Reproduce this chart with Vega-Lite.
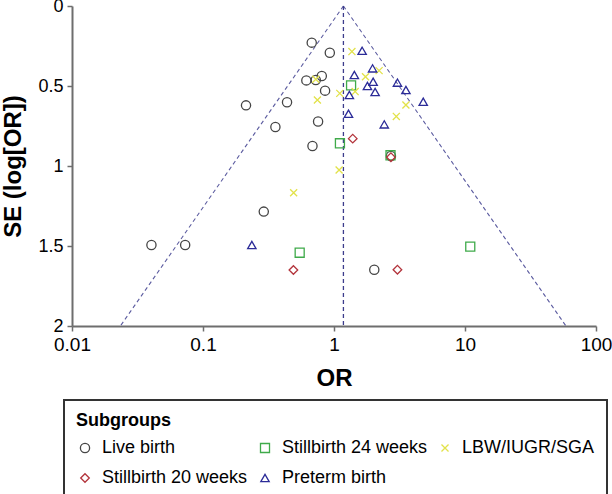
{
  "$schema": "https://vega.github.io/schema/vega-lite/v6.json",
  "autosize": {"type": "none"},
  "padding": {"left": 72, "top": 6, "right": 16, "bottom": 168},
  "width": 524,
  "height": 320,
  "datasets": {
    "studies": [
      {"group": "Live birth", "OR": 0.676, "SE": 0.229},
      {"group": "Live birth", "OR": 0.929, "SE": 0.292},
      {"group": "Live birth", "OR": 0.807, "SE": 0.4375},
      {"group": "Live birth", "OR": 0.615, "SE": 0.465},
      {"group": "Live birth", "OR": 0.726, "SE": 0.4625},
      {"group": "Live birth", "OR": 0.855, "SE": 0.529},
      {"group": "Live birth", "OR": 0.213, "SE": 0.621},
      {"group": "Live birth", "OR": 0.438, "SE": 0.602},
      {"group": "Live birth", "OR": 0.357, "SE": 0.756},
      {"group": "Live birth", "OR": 0.756, "SE": 0.722},
      {"group": "Live birth", "OR": 0.685, "SE": 0.875},
      {"group": "Live birth", "OR": 2.72, "SE": 0.9375},
      {"group": "Live birth", "OR": 0.291, "SE": 1.285},
      {"group": "Live birth", "OR": 0.0404, "SE": 1.494},
      {"group": "Live birth", "OR": 0.0731, "SE": 1.494},
      {"group": "Live birth", "OR": 2.03, "SE": 1.648},
      {"group": "Stillbirth 24 weeks", "OR": 1.35, "SE": 0.496},
      {"group": "Stillbirth 24 weeks", "OR": 1.11, "SE": 0.858},
      {"group": "Stillbirth 24 weeks", "OR": 2.70, "SE": 0.933},
      {"group": "Stillbirth 24 weeks", "OR": 0.547, "SE": 1.542},
      {"group": "Stillbirth 24 weeks", "OR": 10.97, "SE": 1.504},
      {"group": "LBW/IUGR/SGA", "OR": 1.37, "SE": 0.285},
      {"group": "LBW/IUGR/SGA", "OR": 2.21, "SE": 0.404},
      {"group": "LBW/IUGR/SGA", "OR": 1.74, "SE": 0.442},
      {"group": "LBW/IUGR/SGA", "OR": 0.726, "SE": 0.458},
      {"group": "LBW/IUGR/SGA", "OR": 1.107, "SE": 0.546},
      {"group": "LBW/IUGR/SGA", "OR": 1.45, "SE": 0.535},
      {"group": "LBW/IUGR/SGA", "OR": 0.747, "SE": 0.5875},
      {"group": "LBW/IUGR/SGA", "OR": 3.54, "SE": 0.619},
      {"group": "LBW/IUGR/SGA", "OR": 2.99, "SE": 0.69},
      {"group": "LBW/IUGR/SGA", "OR": 1.094, "SE": 1.025},
      {"group": "LBW/IUGR/SGA", "OR": 0.492, "SE": 1.167},
      {"group": "Stillbirth 20 weeks", "OR": 1.39, "SE": 0.829},
      {"group": "Stillbirth 20 weeks", "OR": 2.72, "SE": 0.945},
      {"group": "Stillbirth 20 weeks", "OR": 0.490, "SE": 1.65},
      {"group": "Stillbirth 20 weeks", "OR": 3.05, "SE": 1.648},
      {"group": "Preterm birth", "OR": 1.64, "SE": 0.28},
      {"group": "Preterm birth", "OR": 1.97, "SE": 0.39},
      {"group": "Preterm birth", "OR": 1.43, "SE": 0.431},
      {"group": "Preterm birth", "OR": 1.99, "SE": 0.473},
      {"group": "Preterm birth", "OR": 1.80, "SE": 0.50},
      {"group": "Preterm birth", "OR": 3.05, "SE": 0.479},
      {"group": "Preterm birth", "OR": 3.54, "SE": 0.525},
      {"group": "Preterm birth", "OR": 2.06, "SE": 0.5375},
      {"group": "Preterm birth", "OR": 1.31, "SE": 0.556},
      {"group": "Preterm birth", "OR": 4.80, "SE": 0.598},
      {"group": "Preterm birth", "OR": 1.29, "SE": 0.673},
      {"group": "Preterm birth", "OR": 2.42, "SE": 0.74},
      {"group": "Preterm birth", "OR": 0.236, "SE": 1.494}
    ],
    "funnel": [
      {"line": "left", "OR": 0.0234, "SE": 2},
      {"line": "left", "OR": 1.18, "SE": 0},
      {"line": "right", "OR": 1.18, "SE": 0},
      {"line": "right", "OR": 59.0, "SE": 2}
    ],
    "center": [
      {"line": "mid", "OR": 1.18, "SE": 0},
      {"line": "mid", "OR": 1.18, "SE": 2}
    ]
  },
  "layer": [
    {
      "data": {"name": "funnel"},
      "mark": {"type": "line", "color": "#5c5ca0", "strokeWidth": 1.1, "strokeDash": [4, 3]},
      "encoding": {
        "x": {"field": "OR", "type": "quantitative", "scale": {"type": "log", "domain": [0.01, 100]}},
        "y": {"field": "SE", "type": "quantitative", "scale": {"domain": [0, 2], "reverse": true}},
        "detail": {"field": "line"},
        "order": {"field": "SE"}
      }
    },
    {
      "data": {"name": "center"},
      "mark": {"type": "line", "color": "#3c3c8c", "strokeWidth": 1.3, "strokeDash": [4, 3]},
      "encoding": {
        "x": {"field": "OR", "type": "quantitative"},
        "y": {"field": "SE", "type": "quantitative"},
        "order": {"field": "SE"}
      }
    },
    {
      "data": {"name": "studies"},
      "mark": {"type": "point", "filled": false, "strokeWidth": 1.3, "opacity": 1},
      "encoding": {
        "x": {
          "field": "OR", "type": "quantitative",
          "axis": {"title": "OR", "values": [0.01, 0.1, 1, 10, 100], "format": "~g"}
        },
        "y": {
          "field": "SE", "type": "quantitative",
          "axis": {"title": "SE (log[OR])", "values": [0, 0.5, 1, 1.5, 2], "format": "~g"}
        },
        "color": {
          "field": "group", "type": "nominal", "title": "Subgroups",
          "scale": {
            "domain": ["Live birth", "Stillbirth 24 weeks", "LBW/IUGR/SGA", "Stillbirth 20 weeks", "Preterm birth"],
            "range": ["#454545", "#3faa4a", "#e2e24a", "#b3343c", "#2b2b98"]
          }
        },
        "shape": {
          "field": "group", "type": "nominal", "title": "Subgroups",
          "scale": {
            "domain": ["Live birth", "Stillbirth 24 weeks", "LBW/IUGR/SGA", "Stillbirth 20 weeks", "Preterm birth"],
            "range": ["circle", "square", "M-0.8,-0.8L0.8,0.8M-0.8,0.8L0.8,-0.8", "diamond", "triangle-up"]
          }
        },
        "size": {
          "field": "group", "type": "nominal", "title": "Subgroups",
          "scale": {
            "domain": ["Live birth", "Stillbirth 24 weeks", "LBW/IUGR/SGA", "Stillbirth 20 weeks", "Preterm birth"],
            "range": [85, 70, 80, 95, 130]
          }
        }
      }
    }
  ],
  "config": {
    "font": "Liberation Sans",
    "view": {"stroke": null},
    "axis": {
      "grid": false,
      "domainColor": "#6e6e6e",
      "domainWidth": 2,
      "tickColor": "#6e6e6e",
      "tickWidth": 1.5,
      "tickSize": 5,
      "labelFontSize": 19,
      "labelColor": "#000",
      "labelFont": "Liberation Sans",
      "titleFont": "Liberation Sans",
      "titleFontWeight": "bold",
      "titleColor": "#000",
      "labelPadding": 4
    },
    "axisX": {"titleFontSize": 24, "titlePadding": 12, "labelFlush": false},
    "axisY": {"titleFontSize": 24, "titlePadding": 12, "labelFlush": false, "labelFontSize": 18},
    "legend": {
      "orient": "none",
      "legendX": -8,
      "legendY": 394,
      "direction": "horizontal",
      "columns": 3,
      "strokeColor": "#333",
      "strokeWidth": 2,
      "padding": 12,
      "titleFontSize": 18,
      "titleFontWeight": "bold",
      "titleColor": "#000",
      "titlePadding": 9,
      "labelFontSize": 18,
      "labelColor": "#000",
      "labelLimit": 300,
      "symbolStrokeWidth": 1.3,
      "labelOffset": 8,
      "columnPadding": 8,
      "rowPadding": 12,
      "symbolType": "circle"
    }
  }
}
